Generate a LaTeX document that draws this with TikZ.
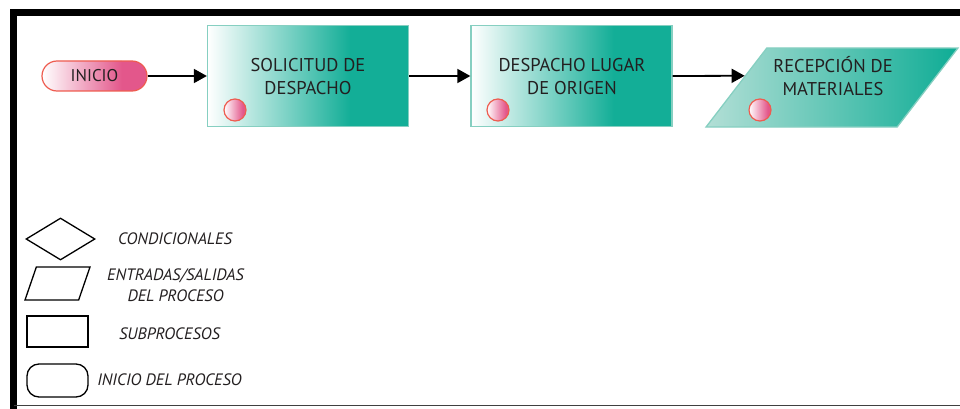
\documentclass[tikz,border=0pt]{standalone}
\usepackage{fontspec}
\setmainfont{PT Sans}
\usetikzlibrary{arrows.meta,shapes.geometric,calc}

\definecolor{tealdeep}{HTML}{13AE97}
\definecolor{tealline}{HTML}{86CFC1}
\definecolor{tealpale}{HTML}{B3DFD6}
\definecolor{pinkdeep}{HTML}{E3578B}
\definecolor{coral}{HTML}{EE5C50}
\definecolor{ink}{HTML}{231F20}

% gradient from the left edge of the shape up to a fraction #3 of its width,
% solid colour #2 beyond that
\newcommand{\ramppaint}[3]{%
  \coordinate (rpA) at (path picture bounding box.south west);
  \coordinate (rpB) at (path picture bounding box.north east);
  \coordinate (rpM) at ($(rpA)!#3!(rpA -| rpB)$);
  \fill[#2, sharp corners] (rpM) rectangle (rpB);
  \shade[left color=#1, right color=#2, sharp corners] (rpA) rectangle (rpM |- rpB);
}

\tikzset{
  boxtext/.style={font=\fontsize{18.5}{23}\selectfont, text=ink, align=center},
  procbox/.style={rectangle, draw=tealline, line width=1.3pt,
    path picture={\ramppaint{white}{tealdeep}{0.71}},
    minimum width=201pt, minimum height=101pt, inner sep=0pt},
  iobox/.style={trapezium, trapezium left angle=65, trapezium right angle=115,
    trapezium stretches=true, draw=tealline, line width=1.3pt,
    path picture={\ramppaint{tealpale}{tealdeep}{0.97}},
    minimum width=252pt, minimum height=79pt, inner sep=2pt},
  startbox/.style={rectangle, rounded corners=15pt, draw=coral, line width=1.2pt,
    path picture={\ramppaint{white}{pinkdeep}{0.76}},
    minimum width=105pt, minimum height=30pt, inner sep=0pt,
    font=\fontsize{17}{20}\selectfont, text=ink},
  dot/.style={circle, draw=coral, line width=1.2pt,
    path picture={\ramppaint{white}{pinkdeep}{0.85}},
    minimum size=22pt, inner sep=0pt},
  conn/.style={draw=black, line width=1.8pt, -{Triangle[length=13pt,width=14pt]}},
  keyshape/.style={draw=black, line width=1.3pt, fill=white, inner sep=2pt},
  keytext/.style={font=\itshape\fontsize{16.5}{21}\selectfont, text=ink, align=center},
}

\begin{document}
\begin{tikzpicture}[x=1pt, y=-1pt]
  \useasboundingbox (0,0) rectangle (960,409);

  % outer frame
  \draw[line width=7pt, line join=miter] (13.5,409) -- (13.5,12.5) -- (960,12.5);
  \draw[line width=1.4pt, draw=black!75] (13.5,405.5) -- (960,405.5);

  % process flow
  \node[startbox] (inicio) at (94.5,76) {INICIO};

  \node[procbox] (sol) at (308,76) {};
  \node[boxtext] (solt) at (308,76.5) {SOLICITUD DE\\DESPACHO};
  \node[dot] (sold) at (235,110) {};

  \node[procbox] (desp) at (571.5,76) {};
  \node[boxtext] (despt) at (572,76.5) {DESPACHO LUGAR\\DE ORIGEN};
  \node[dot] (despd) at (498,110) {};

  \node[iobox] (recep) at (832,87.5) {};
  \node[boxtext] (recept) at (833,76.5) {RECEPCIÓN DE\\MATERIALES};
  \node[dot] (recepd) at (760,110) {};

  \coordinate (recepin) at ($(recep.bottom left corner)!0.646!(recep.top left corner)$);

  \draw[conn] (inicio.east) -- (sol.west);
  \draw[conn] (sol.east) -- (desp.west);
  \draw[conn] (desp.east) -- (recepin);

  % legend
  \node[keyshape, diamond, aspect=1.64, minimum width=69pt, minimum height=42pt] (kcond) at (60.5,239) {};
  \node[keytext] (kcondt) at (175,239) {CONDICIONALES};

  \node[keyshape, trapezium, trapezium left angle=75, trapezium right angle=105,
        trapezium stretches=true, minimum width=65pt, minimum height=33pt] (kio) at (57.5,283.5) {};
  \node[keytext] (kiot) at (175.5,285) {ENTRADAS/SALIDAS\\DEL PROCESO};

  \node[keyshape, rectangle, minimum width=61pt, minimum height=31pt] (ksub) at (57.5,331.5) {};
  \node[keytext] (ksubt) at (169.5,334) {SUBPROCESOS};

  \node[keyshape, rectangle, rounded corners=12pt, minimum width=61pt, minimum height=33pt] (kini) at (57.5,380.5) {};
  \node[keytext] (kinit) at (169.5,379.5) {INICIO DEL PROCESO};
\end{tikzpicture}
\end{document}
